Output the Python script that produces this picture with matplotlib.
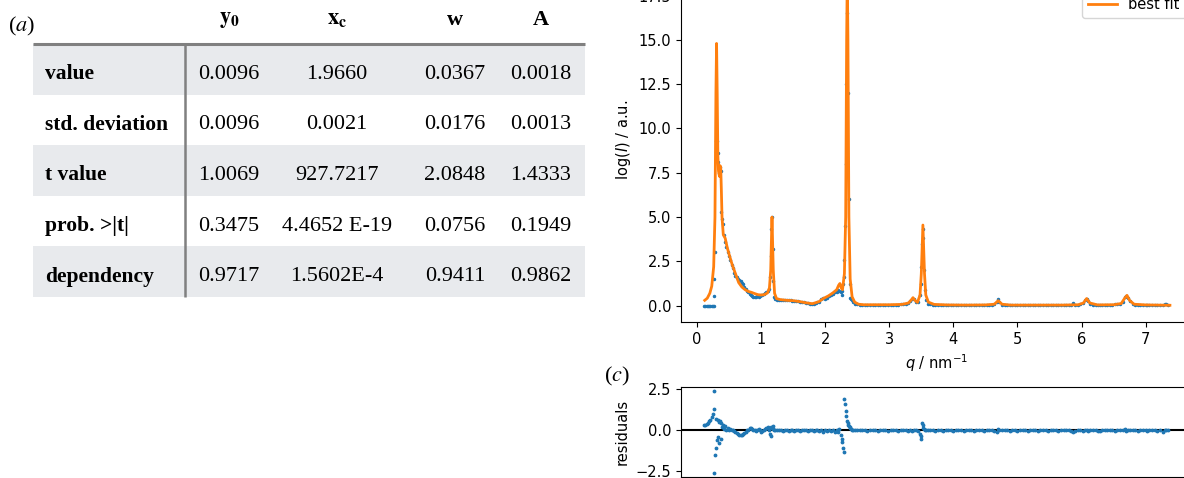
import matplotlib.pyplot as plt

FONT_SIZE = 10.5
plt.rcParams.update({'font.size': FONT_SIZE})

# ---- table (a) ----
col_labels = [r'$\mathbf{y_0}$', r'$\mathbf{x_c}$', 'w', 'A']
row_labels = ['value', 'std. deviation', 't value', 'prob. >|t|', 'dependency']
row_value = ['0.0096', '1.9660', '0.0367', '0.0018']
row_std = ['0.0096', '0.0021', '0.0176', '0.0013']
row_t = ['1.0069', '927.7217', '2.0848', '1.4333']
row_prob = ['0.3475', '4.4652 E-19', '0.0756', '0.1949']
row_dep = ['0.9717', '1.5602E-4', '0.9411', '0.9862']
table_rows = [row_value, row_std, row_t, row_prob, row_dep]

# ---- best fit curve (b) ----
q_fit = [0.12, 0.16, 0.20, 0.23, 0.26, 0.28, 0.295, 0.305, 0.315, 0.325,
         0.335, 0.35, 0.36, 0.37, 0.38, 0.39, 0.41, 0.44, 0.47, 0.50,
         0.55, 0.60, 0.65, 0.70, 0.75, 0.80, 0.85, 0.90, 0.95, 1.00,
         1.05, 1.10, 1.13, 1.15, 1.17, 1.19, 1.21, 1.24, 1.30, 1.40,
         1.50, 1.60, 1.70, 1.80, 1.90, 1.97, 2.05, 2.12, 2.18, 2.21,
         2.23, 2.25, 2.27, 2.30, 2.32, 2.335, 2.345, 2.355, 2.37, 2.39,
         2.42, 2.46, 2.52, 2.60, 2.80, 3.00, 3.20, 3.30, 3.35, 3.37,
         3.40, 3.44, 3.48, 3.50, 3.525, 3.55, 3.57, 3.61, 3.70, 3.90,
         4.20, 4.50, 4.64, 4.70, 4.76, 4.90, 5.30, 5.70, 5.95, 6.03,
         6.08, 6.13, 6.25, 6.50, 6.62, 6.68, 6.71, 6.75, 6.82, 7.00,
         7.20, 7.38]
logI_fit = [0.30, 0.42, 0.70, 1.1, 2.2, 5.0, 12.0, 14.8, 12.0, 8.5,
            7.6, 7.3, 7.9, 7.8, 6.5, 5.0, 4.0, 3.8, 3.3, 2.9,
            2.3, 1.8, 1.3, 1.05, 0.9, 0.8, 0.75, 0.68, 0.62, 0.60,
            0.62, 0.72, 1.0, 2.0, 5.0, 2.0, 0.7, 0.40, 0.34, 0.30,
            0.28, 0.23, 0.16, 0.11, 0.22, 0.40, 0.55, 0.72, 0.90, 1.15,
            1.25, 1.0, 0.9, 1.8, 5.0, 15.0, 18.7, 15.0, 5.0, 1.5,
            0.5, 0.2, 0.08, 0.05, 0.05, 0.05, 0.07, 0.15, 0.35, 0.45,
            0.30, 0.18, 0.6, 1.8, 4.55, 1.8, 0.6, 0.2, 0.07, 0.04,
            0.03, 0.04, 0.08, 0.28, 0.08, 0.03, 0.03, 0.03, 0.05, 0.15,
            0.40, 0.15, 0.04, 0.05, 0.12, 0.45, 0.58, 0.30, 0.08, 0.04,
            0.03, 0.02]

# ---- measured data and residuals (b), (c) ----
q_data = [0.11, 0.13, 0.15, 0.17, 0.19, 0.21, 0.23, 0.25, 0.26, 0.265,
          0.27, 0.28, 0.29, 0.30, 0.31, 0.32, 0.33, 0.34, 0.35, 0.36,
          0.37, 0.38, 0.39, 0.40, 0.42, 0.44, 0.46, 0.48, 0.50, 0.52,
          0.54, 0.56, 0.58, 0.60, 0.62, 0.64, 0.66, 0.68, 0.70, 0.72,
          0.74, 0.76, 0.78, 0.80, 0.82, 0.84, 0.86, 0.88, 0.90, 0.92,
          0.94, 0.96, 0.98, 1.00, 1.02, 1.04, 1.06, 1.08, 1.10, 1.12,
          1.14, 1.15, 1.16, 1.17, 1.18, 1.19, 1.20, 1.22, 1.25, 1.28,
          1.31, 1.34, 1.37, 1.40, 1.43, 1.46, 1.49, 1.52, 1.55, 1.58,
          1.61, 1.64, 1.67, 1.70, 1.73, 1.76, 1.79, 1.82, 1.85, 1.88,
          1.91, 1.94, 1.97, 2.00, 2.03, 2.06, 2.09, 2.12, 2.15, 2.18,
          2.20, 2.22, 2.24, 2.26, 2.27, 2.28, 2.29, 2.30, 2.31, 2.32,
          2.33, 2.34, 2.35, 2.36, 2.37, 2.38, 2.39, 2.40, 2.42, 2.44,
          2.47, 2.50, 2.54, 2.58, 2.62, 2.66, 2.70, 2.74, 2.78, 2.82,
          2.86, 2.90, 2.94, 2.98, 3.02, 3.06, 3.10, 3.14, 3.18, 3.22,
          3.26, 3.30, 3.33, 3.36, 3.39, 3.42, 3.45, 3.48, 3.49, 3.50,
          3.51, 3.52, 3.53, 3.54, 3.55, 3.57, 3.60, 3.64, 3.68, 3.72,
          3.76, 3.80, 3.84, 3.88, 3.92, 3.96, 4.00, 4.04, 4.08, 4.12,
          4.16, 4.20, 4.24, 4.28, 4.32, 4.36, 4.40, 4.44, 4.48, 4.52,
          4.56, 4.60, 4.64, 4.68, 4.70, 4.72, 4.76, 4.80, 4.84, 4.88,
          4.92, 4.96, 5.00, 5.04, 5.08, 5.12, 5.16, 5.20, 5.24, 5.28,
          5.32, 5.36, 5.40, 5.44, 5.48, 5.52, 5.56, 5.60, 5.64, 5.68,
          5.72, 5.76, 5.80, 5.84, 5.87, 5.90, 5.94, 5.98, 6.02, 6.06,
          6.08, 6.10, 6.14, 6.18, 6.22, 6.26, 6.29, 6.32, 6.36, 6.40,
          6.44, 6.48, 6.52, 6.56, 6.60, 6.64, 6.68, 6.70, 6.72, 6.76,
          6.80, 6.84, 6.88, 6.92, 6.96, 7.00, 7.02, 7.06, 7.10, 7.14,
          7.18, 7.22, 7.27, 7.30, 7.32, 7.35]
logI_data = [0.0, 0.0, 0.0, 0.0, 0.0, 0.0, 0.0, 0.0, 0.0, 0.55,
             1.5, 3.0, 9.3, 8.7, 9.3, 8.6, 8.1, 7.7, 7.5, 7.8,
             7.6, 5.3, 4.9, 4.6, 4.0, 3.6, 3.3, 3.0, 2.8, 2.55,
             2.3, 2.1, 1.85, 1.7, 1.6, 1.5, 1.45, 1.4, 1.3, 1.2,
             1.05, 0.95, 0.85, 0.75, 0.65, 0.6, 0.52, 0.5, 0.48, 0.5,
             0.52, 0.5, 0.55, 0.58, 0.6, 0.65, 0.7, 0.75, 0.85, 0.95,
             1.6, 2.8, 4.3, 5.0, 3.2, 1.4, 0.5, 0.4, 0.34, 0.33,
             0.3, 0.32, 0.31, 0.3, 0.3, 0.29, 0.27, 0.26, 0.25, 0.24,
             0.22, 0.2, 0.18, 0.15, 0.14, 0.12, 0.1, 0.1, 0.14, 0.18,
             0.22, 0.35, 0.45, 0.38, 0.45, 0.52, 0.6, 0.68, 0.78, 0.75,
             0.9, 0.85, 0.75, 0.6, 0.85, 1.2, 1.6, 2.6, 4.5, 8.0,
             12.5, 16.5, 17.5, 12.0, 6.0, 1.2, 0.45, 0.38, 0.3, 0.2,
             0.12, 0.08, 0.06, 0.05, 0.04, 0.05, 0.04, 0.05, 0.04, 0.05,
             0.04, 0.05, 0.04, 0.05, 0.05, 0.06, 0.05, 0.06, 0.07, 0.08,
             0.1, 0.14, 0.25, 0.38, 0.35, 0.2, 0.22, 0.6, 1.2, 2.2,
             3.5, 4.3, 3.8, 2.0, 0.9, 0.3, 0.12, 0.08, 0.06, 0.05,
             0.04, 0.05, 0.04, 0.03, 0.04, 0.03, 0.04, 0.03, 0.04, 0.03,
             0.04, 0.03, 0.04, 0.03, 0.04, 0.03, 0.04, 0.04, 0.03, 0.04,
             0.04, 0.05, 0.08, 0.2, 0.35, 0.2, 0.06, 0.04, 0.03, 0.04,
             0.03, 0.04, 0.03, 0.04, 0.03, 0.04, 0.03, 0.04, 0.03, 0.04,
             0.03, 0.04, 0.03, 0.04, 0.03, 0.04, 0.03, 0.04, 0.03, 0.04,
             0.03, 0.04, 0.04, 0.05, 0.15, 0.05, 0.06, 0.08, 0.14, 0.3,
             0.38, 0.25, 0.1, 0.05, 0.04, 0.04, 0.03, 0.04, 0.04, 0.05,
             0.05, 0.06, 0.07, 0.08, 0.12, 0.2, 0.5, 0.55, 0.42, 0.25,
             0.1, 0.06, 0.05, 0.04, 0.04, 0.03, 0.04, 0.03, 0.04, 0.03,
             0.04, 0.03, 0.05, 0.08, 0.12, 0.03]
residuals = [0.3, 0.35, 0.4, 0.48, 0.55, 0.65, 0.8, 1.0, 1.3, 2.4,
             -2.6, -1.5, -1.1, 0.7, -0.6, 0.65, -0.4, 0.5, -0.8, 0.6,
             -0.5, 0.45, 0.2, 0.3, 0.1, 0.25, 0.05, 0.15, 0.0, 0.1,
             0.05, 0.0, -0.05, -0.1, -0.15, -0.22, -0.28, -0.3, -0.28, -0.22,
             -0.15, -0.08, 0.0, 0.05, 0.12, 0.15, 0.1, 0.05, 0.0, -0.05,
             0.05, 0.1, 0.0, -0.1, -0.05, 0.05, 0.1, 0.15, 0.2, 0.05,
             -0.2, -0.35, 0.2, 0.15, 0.25, 0.1, 0.05, 0.0, 0.02, 0.0,
             0.01, -0.01, 0.0, 0.02, -0.01, 0.0, 0.01, -0.02, 0.0, 0.01,
             -0.01, 0.0, 0.02, 0.0, -0.01, 0.01, 0.0, -0.02, 0.01, 0.0,
             -0.05, 0.03, -0.08, 0.05, -0.03, 0.02, -0.06, 0.04, -0.1, 0.05,
             -0.08, 0.1, -0.3, -0.5, -0.7, -1.1, -1.3, 1.9, 1.6, 1.2,
             0.9, 0.6, 0.45, 0.35, 0.25, 0.18, 0.12, 0.08, 0.05, 0.03,
             0.02, 0.01, 0.0, 0.01, 0.0, -0.01, 0.0, 0.01, 0.0, -0.01,
             0.0, 0.01, 0.0, -0.01, 0.0, 0.01, 0.0, -0.01, 0.0, 0.01,
             0.0, -0.02, 0.0, -0.03, 0.02, 0.0, -0.05, -0.2, -0.35, -0.5,
             0.45, 0.3, 0.15, 0.08, 0.04, 0.02, 0.0, 0.01, 0.0, -0.01,
             0.0, 0.01, -0.01, 0.0, 0.01, 0.0, -0.01, 0.0, 0.01, 0.0,
             -0.01, 0.0, 0.01, 0.0, -0.01, 0.0, 0.01, 0.0, -0.01, 0.0,
             0.0, 0.01, -0.03, -0.1, 0.08, 0.02, 0.0, 0.01, 0.0, -0.01,
             0.0, 0.01, -0.01, 0.0, 0.01, 0.0, -0.01, 0.0, 0.01, 0.0,
             -0.01, 0.0, 0.01, 0.0, -0.01, 0.0, 0.01, 0.0, -0.01, 0.0,
             0.0, 0.01, 0.0, -0.03, -0.1, -0.02, 0.0, 0.01, -0.02, 0.03,
             0.02, -0.02, 0.0, 0.01, 0.0, -0.02, -0.06, 0.0, 0.01, 0.0,
             0.01, 0.0, -0.01, 0.0, 0.01, 0.0, 0.06, -0.06, 0.02, 0.0,
             0.01, 0.0, -0.01, 0.0, 0.01, 0.0, -0.06, 0.0, 0.01, 0.0,
             -0.01, 0.0, -0.08, 0.0, 0.01, 0.0]
res_ticks = [-2.5, 0.0, 2.5]

W, H = 1184, 478
BAND = '#e8eaed'
RULE = '#808080'
SERIF = 'Liberation Serif'


def px(x0, y0, x1, y1):
    """pixel box (top-left origin) -> figure fraction rect"""
    return [x0 / W, 1 - y1 / H, (x1 - x0) / W, (y1 - y0) / H]


def draw_table(fig):
    ax = fig.add_axes([0, 0, 1, 1])
    ax.set_xlim(0, W)
    ax.set_ylim(H, 0)
    ax.axis('off')

    left, right, split = 33, 585, 185
    top, row_h = 44, 50.6
    col_x = [229, 337, 455, 541]

    for i, label in enumerate(row_labels):
        y0 = top + i * row_h
        if i % 2 == 0:
            ax.fill_between([left, right], y0, y0 + row_h, color=BAND, lw=0)
        yc = y0 + row_h / 2 + 5
        ax.text(45, yc, label, family=SERIF, weight='bold', fontsize=15.5,
                ha='left', va='center')
        for x, val in zip(col_x, table_rows[i]):
            ax.text(x, yc, val, family=SERIF, fontsize=16, ha='center', va='center')

    ax.plot([left, right], [top, top], color=RULE, lw=2.2, solid_capstyle='butt')
    ax.plot([split, split], [top, top + 5 * row_h], color=RULE, lw=1.8,
            solid_capstyle='butt')
    for x, lab in zip(col_x, col_labels):
        ax.text(x, 20, lab, family=SERIF, weight='bold', fontsize=16,
                math_fontfamily='stix', ha='center', va='center')

    ax.text(8, 26, r'($\it{a}$)', family=SERIF, fontsize=16,
            math_fontfamily='stix', ha='left', va='center')
    ax.text(604, 376, r'($\it{c}$)', family=SERIF, fontsize=16,
            math_fontfamily='stix', ha='left', va='center')


def main():
    fig = plt.figure(figsize=(W / 100, H / 100), dpi=100)
    draw_table(fig)

    # (b) scattering curve with fit
    ax = fig.add_axes(px(681, -42.2, 1193, 322.2))
    ax.plot(q_data, logI_data, '.', ms=3, color='C0', label='data')
    ax.plot(q_fit, logI_fit, '-', lw=2, color='C1', label='best fit')
    ax.set_xlim(-0.25, 7.74)
    ax.set_ylim(-0.935, 19.635)
    ax.set_xlabel(r'$q$ / nm$^{-1}$')
    ax.set_ylabel(r'log($I$) / a.u.')
    ax.legend(loc='upper right', bbox_to_anchor=(1.0, 0.989))

    # (c) residuals
    axr = fig.add_axes(px(681, 387, 1193, 477), sharex=ax)
    axr.axhline(0, color='k', lw=1.5, zorder=1)
    axr.plot(q_data, residuals, '.', ms=3.5, color='C0', zorder=2)
    axr.set_ylim(-2.85, 2.65)
    axr.set_yticks(res_ticks)
    axr.set_ylabel('residuals')
    axr.tick_params(labelbottom=False)

    fig.savefig('out.png', dpi=100)
    plt.close(fig)


if __name__ == "__main__":
    main()
